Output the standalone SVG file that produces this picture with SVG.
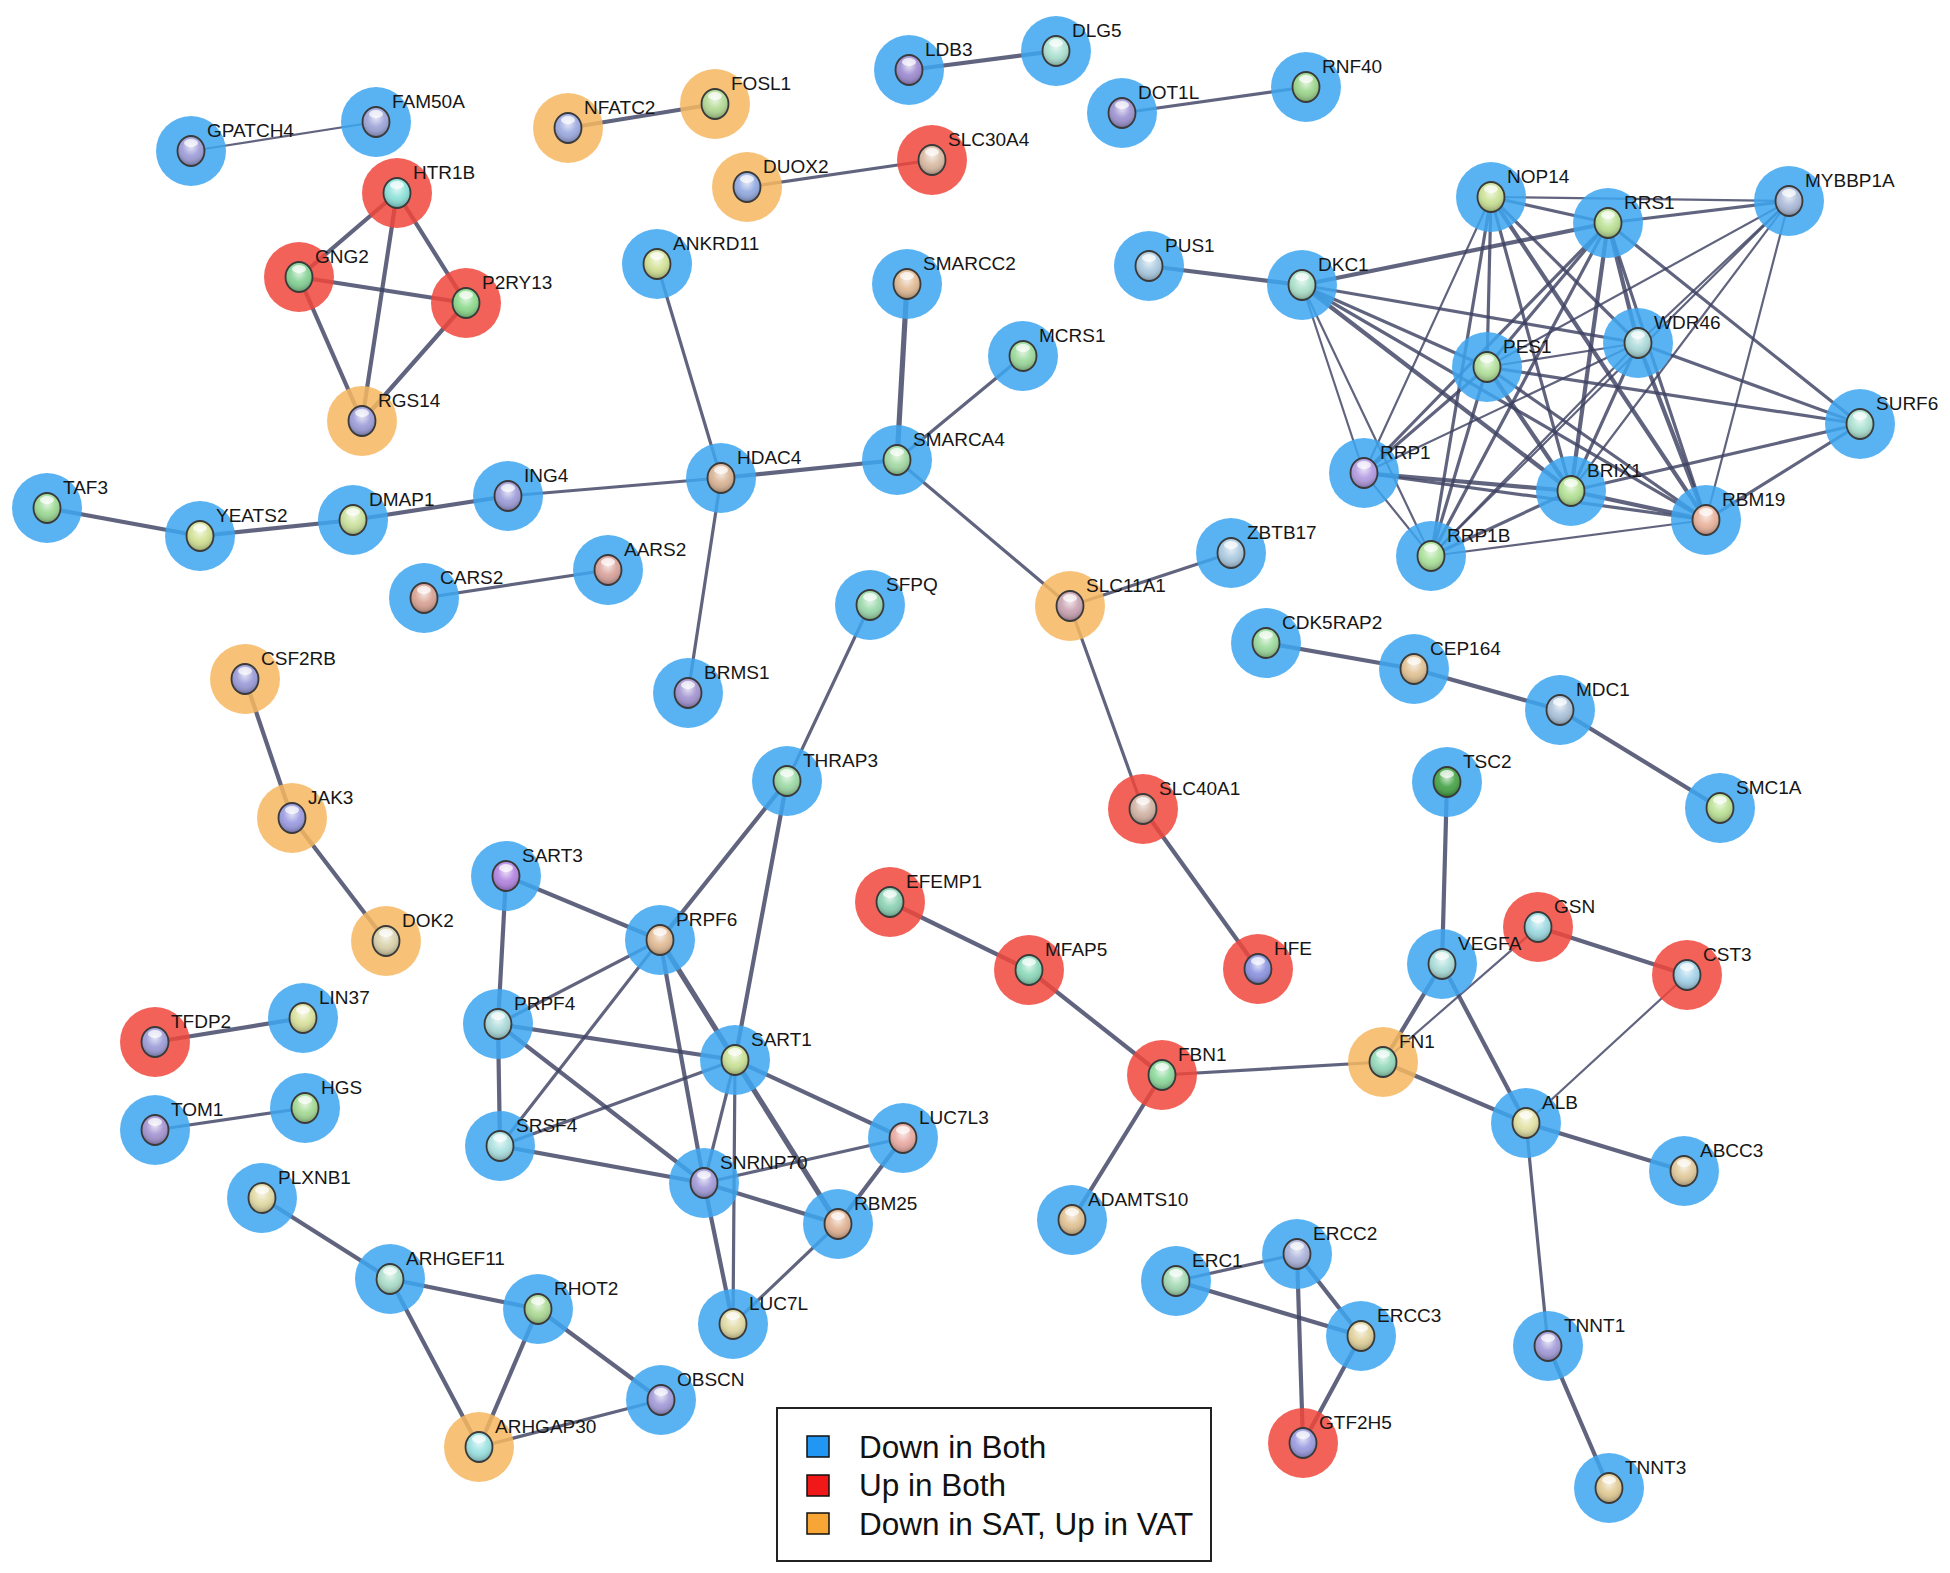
<svg xmlns="http://www.w3.org/2000/svg" xmlns:xlink="http://www.w3.org/1999/xlink" width="1950" height="1573" viewBox="0 0 1950 1573">
<style>
.node text{font-family:"Liberation Sans",Arial,sans-serif;font-size:19px;fill:#161616}
.hb{fill:#3ca6f1;fill-opacity:.85}
.hr{fill:#f0463b;fill-opacity:.85}
.ho{fill:#f6b760;fill-opacity:.85}
.ball{stroke:none}
#edges line{stroke:#3e4262;stroke-opacity:.82;stroke-linecap:round}
.t1{stroke-width:2.2}
.t2{stroke-width:3.2}
.t3{stroke-width:4.2}
.t4{stroke-width:5.2}
.legend text{font-family:"Liberation Sans",Arial,sans-serif;font-size:31.5px;fill:#111}
</style>
<defs>
<radialGradient id="shine" cx="0.5" cy="0.35" r="0.65">
<stop offset="0" stop-color="#fff" stop-opacity="0.75"/>
<stop offset="0.5" stop-color="#fff" stop-opacity="0.1"/>
<stop offset="1" stop-color="#000" stop-opacity="0.3"/>
</radialGradient>
<g id="gloss">
<ellipse rx="13.5" ry="15" fill="url(#shine)" stroke="#3a3a3a" stroke-width="1.8"/>
<ellipse cy="-8" rx="7" ry="4" fill="#fff" fill-opacity="0.7"/>
</g>
</defs>
<rect width="1950" height="1573" fill="#fff"/>
<g id="edges">
<line class="t1" x1="191" y1="151" x2="376" y2="122"/>
<line class="t3" x1="568" y1="128" x2="715" y2="104"/>
<line class="t3" x1="909" y1="70" x2="1056" y2="51"/>
<line class="t2" x1="1122" y1="113" x2="1306" y2="87"/>
<line class="t2" x1="747" y1="187" x2="932" y2="160"/>
<line class="t3" x1="397" y1="193" x2="299" y2="277"/>
<line class="t3" x1="397" y1="193" x2="466" y2="303"/>
<line class="t3" x1="397" y1="193" x2="362" y2="421"/>
<line class="t3" x1="299" y1="277" x2="466" y2="303"/>
<line class="t3" x1="299" y1="277" x2="362" y2="421"/>
<line class="t3" x1="466" y1="303" x2="362" y2="421"/>
<line class="t2" x1="657" y1="264" x2="721" y2="478"/>
<line class="t4" x1="907" y1="284" x2="897" y2="460"/>
<line class="t2" x1="1023" y1="356" x2="897" y2="460"/>
<line class="t3" x1="721" y1="478" x2="897" y2="460"/>
<line class="t2" x1="508" y1="496" x2="721" y2="478"/>
<line class="t3" x1="353" y1="520" x2="508" y2="496"/>
<line class="t3" x1="200" y1="536" x2="353" y2="520"/>
<line class="t3" x1="47" y1="508" x2="200" y2="536"/>
<line class="t2" x1="721" y1="478" x2="688" y2="693"/>
<line class="t2" x1="897" y1="460" x2="1070" y2="606"/>
<line class="t2" x1="1070" y1="606" x2="1231" y2="553"/>
<line class="t2" x1="1070" y1="606" x2="1143" y2="809"/>
<line class="t3" x1="1143" y1="809" x2="1258" y2="969"/>
<line class="t2" x1="424" y1="598" x2="608" y2="570"/>
<line class="t3" x1="1149" y1="266" x2="1302" y2="285"/>
<line class="t2" x1="870" y1="605" x2="787" y2="781"/>
<line class="t3" x1="787" y1="781" x2="660" y2="940"/>
<line class="t3" x1="787" y1="781" x2="735" y2="1060"/>
<line class="t3" x1="1266" y1="643" x2="1414" y2="669"/>
<line class="t3" x1="1414" y1="669" x2="1560" y2="710"/>
<line class="t3" x1="1560" y1="710" x2="1720" y2="808"/>
<line class="t3" x1="245" y1="679" x2="292" y2="818"/>
<line class="t3" x1="292" y1="818" x2="386" y2="941"/>
<line class="t3" x1="1447" y1="782" x2="1442" y2="964"/>
<line class="t3" x1="506" y1="876" x2="660" y2="940"/>
<line class="t3" x1="506" y1="876" x2="498" y2="1024"/>
<line class="t2" x1="660" y1="940" x2="498" y2="1024"/>
<line class="t2" x1="660" y1="940" x2="500" y2="1146"/>
<line class="t3" x1="660" y1="940" x2="704" y2="1183"/>
<line class="t4" x1="660" y1="940" x2="735" y2="1060"/>
<line class="t3" x1="498" y1="1024" x2="735" y2="1060"/>
<line class="t3" x1="498" y1="1024" x2="500" y2="1146"/>
<line class="t3" x1="498" y1="1024" x2="704" y2="1183"/>
<line class="t2" x1="500" y1="1146" x2="735" y2="1060"/>
<line class="t3" x1="500" y1="1146" x2="704" y2="1183"/>
<line class="t2" x1="735" y1="1060" x2="704" y2="1183"/>
<line class="t3" x1="735" y1="1060" x2="903" y2="1138"/>
<line class="t4" x1="735" y1="1060" x2="838" y2="1224"/>
<line class="t2" x1="735" y1="1060" x2="733" y2="1324"/>
<line class="t2" x1="704" y1="1183" x2="903" y2="1138"/>
<line class="t3" x1="704" y1="1183" x2="838" y2="1224"/>
<line class="t3" x1="704" y1="1183" x2="733" y2="1324"/>
<line class="t3" x1="903" y1="1138" x2="838" y2="1224"/>
<line class="t2" x1="838" y1="1224" x2="733" y2="1324"/>
<line class="t3" x1="890" y1="902" x2="1029" y2="970"/>
<line class="t3" x1="1029" y1="970" x2="1162" y2="1075"/>
<line class="t3" x1="1162" y1="1075" x2="1072" y2="1220"/>
<line class="t2" x1="1162" y1="1075" x2="1383" y2="1062"/>
<line class="t3" x1="1383" y1="1062" x2="1442" y2="964"/>
<line class="t1" x1="1383" y1="1062" x2="1538" y2="927"/>
<line class="t3" x1="1383" y1="1062" x2="1526" y2="1123"/>
<line class="t3" x1="1442" y1="964" x2="1526" y2="1123"/>
<line class="t3" x1="1538" y1="927" x2="1687" y2="975"/>
<line class="t1" x1="1687" y1="975" x2="1526" y2="1123"/>
<line class="t3" x1="1526" y1="1123" x2="1684" y2="1171"/>
<line class="t2" x1="1526" y1="1123" x2="1548" y2="1346"/>
<line class="t3" x1="1548" y1="1346" x2="1609" y2="1488"/>
<line class="t3" x1="155" y1="1042" x2="303" y2="1018"/>
<line class="t2" x1="155" y1="1130" x2="305" y2="1108"/>
<line class="t3" x1="262" y1="1198" x2="390" y2="1279"/>
<line class="t3" x1="390" y1="1279" x2="538" y2="1309"/>
<line class="t3" x1="390" y1="1279" x2="479" y2="1447"/>
<line class="t3" x1="538" y1="1309" x2="479" y2="1447"/>
<line class="t3" x1="538" y1="1309" x2="661" y2="1400"/>
<line class="t2" x1="661" y1="1400" x2="479" y2="1447"/>
<line class="t2" x1="1176" y1="1281" x2="1297" y2="1254"/>
<line class="t3" x1="1176" y1="1281" x2="1361" y2="1336"/>
<line class="t3" x1="1297" y1="1254" x2="1361" y2="1336"/>
<line class="t3" x1="1297" y1="1254" x2="1303" y2="1443"/>
<line class="t3" x1="1361" y1="1336" x2="1303" y2="1443"/>
<line class="t3" x1="1302" y1="285" x2="1608" y2="223"/>
<line class="t2" x1="1302" y1="285" x2="1487" y2="367"/>
<line class="t2" x1="1302" y1="285" x2="1638" y2="343"/>
<line class="t3" x1="1302" y1="285" x2="1571" y2="491"/>
<line class="t2" x1="1302" y1="285" x2="1706" y2="520"/>
<line class="t1" x1="1302" y1="285" x2="1364" y2="473"/>
<line class="t1" x1="1302" y1="285" x2="1431" y2="556"/>
<line class="t2" x1="1491" y1="197" x2="1608" y2="223"/>
<line class="t1" x1="1491" y1="197" x2="1789" y2="201"/>
<line class="t2" x1="1491" y1="197" x2="1487" y2="367"/>
<line class="t2" x1="1491" y1="197" x2="1638" y2="343"/>
<line class="t2" x1="1491" y1="197" x2="1571" y2="491"/>
<line class="t3" x1="1491" y1="197" x2="1706" y2="520"/>
<line class="t1" x1="1491" y1="197" x2="1364" y2="473"/>
<line class="t2" x1="1491" y1="197" x2="1431" y2="556"/>
<line class="t2" x1="1608" y1="223" x2="1789" y2="201"/>
<line class="t2" x1="1608" y1="223" x2="1487" y2="367"/>
<line class="t3" x1="1608" y1="223" x2="1638" y2="343"/>
<line class="t3" x1="1608" y1="223" x2="1571" y2="491"/>
<line class="t2" x1="1608" y1="223" x2="1706" y2="520"/>
<line class="t2" x1="1608" y1="223" x2="1364" y2="473"/>
<line class="t2" x1="1608" y1="223" x2="1431" y2="556"/>
<line class="t2" x1="1608" y1="223" x2="1860" y2="424"/>
<line class="t1" x1="1789" y1="201" x2="1487" y2="367"/>
<line class="t1" x1="1789" y1="201" x2="1638" y2="343"/>
<line class="t1" x1="1789" y1="201" x2="1571" y2="491"/>
<line class="t1" x1="1789" y1="201" x2="1706" y2="520"/>
<line class="t1" x1="1789" y1="201" x2="1431" y2="556"/>
<line class="t1" x1="1638" y1="343" x2="1487" y2="367"/>
<line class="t2" x1="1638" y1="343" x2="1860" y2="424"/>
<line class="t3" x1="1638" y1="343" x2="1706" y2="520"/>
<line class="t2" x1="1638" y1="343" x2="1571" y2="491"/>
<line class="t1" x1="1638" y1="343" x2="1364" y2="473"/>
<line class="t1" x1="1638" y1="343" x2="1431" y2="556"/>
<line class="t2" x1="1487" y1="367" x2="1860" y2="424"/>
<line class="t3" x1="1487" y1="367" x2="1571" y2="491"/>
<line class="t2" x1="1487" y1="367" x2="1706" y2="520"/>
<line class="t2" x1="1487" y1="367" x2="1364" y2="473"/>
<line class="t2" x1="1487" y1="367" x2="1431" y2="556"/>
<line class="t2" x1="1860" y1="424" x2="1571" y2="491"/>
<line class="t2" x1="1860" y1="424" x2="1706" y2="520"/>
<line class="t3" x1="1364" y1="473" x2="1571" y2="491"/>
<line class="t2" x1="1364" y1="473" x2="1706" y2="520"/>
<line class="t1" x1="1364" y1="473" x2="1431" y2="556"/>
<line class="t3" x1="1571" y1="491" x2="1706" y2="520"/>
<line class="t2" x1="1571" y1="491" x2="1431" y2="556"/>
<line class="t1" x1="1706" y1="520" x2="1431" y2="556"/>
</g>
<g id="nodes">
<g id="node-GPATCH4" class="node" transform="translate(191,151)"><circle class="hb" r="35"/><ellipse class="ball" rx="13.5" ry="15" fill="#9a9ad8"/><use href="#gloss"/><text x="16" y="-14">GPATCH4</text></g>
<g id="node-FAM50A" class="node" transform="translate(376,122)"><circle class="hb" r="35"/><ellipse class="ball" rx="13.5" ry="15" fill="#9aa2d8"/><use href="#gloss"/><text x="16" y="-14">FAM50A</text></g>
<g id="node-NFATC2" class="node" transform="translate(568,128)"><circle class="ho" r="35"/><ellipse class="ball" rx="13.5" ry="15" fill="#9aa8e0"/><use href="#gloss"/><text x="16" y="-14">NFATC2</text></g>
<g id="node-FOSL1" class="node" transform="translate(715,104)"><circle class="ho" r="35"/><ellipse class="ball" rx="13.5" ry="15" fill="#b0d890"/><use href="#gloss"/><text x="16" y="-14">FOSL1</text></g>
<g id="node-LDB3" class="node" transform="translate(909,70)"><circle class="hb" r="35"/><ellipse class="ball" rx="13.5" ry="15" fill="#9a88d0"/><use href="#gloss"/><text x="16" y="-14">LDB3</text></g>
<g id="node-DLG5" class="node" transform="translate(1056,51)"><circle class="hb" r="35"/><ellipse class="ball" rx="13.5" ry="15" fill="#a8e0d0"/><use href="#gloss"/><text x="16" y="-14">DLG5</text></g>
<g id="node-DOT1L" class="node" transform="translate(1122,113)"><circle class="hb" r="35"/><ellipse class="ball" rx="13.5" ry="15" fill="#9a90d0"/><use href="#gloss"/><text x="16" y="-14">DOT1L</text></g>
<g id="node-RNF40" class="node" transform="translate(1306,87)"><circle class="hb" r="35"/><ellipse class="ball" rx="13.5" ry="15" fill="#98d488"/><use href="#gloss"/><text x="16" y="-14">RNF40</text></g>
<g id="node-DUOX2" class="node" transform="translate(747,187)"><circle class="ho" r="35"/><ellipse class="ball" rx="13.5" ry="15" fill="#90a8e0"/><use href="#gloss"/><text x="16" y="-14">DUOX2</text></g>
<g id="node-SLC30A4" class="node" transform="translate(932,160)"><circle class="hr" r="35"/><ellipse class="ball" rx="13.5" ry="15" fill="#d8b8a0"/><use href="#gloss"/><text x="16" y="-14">SLC30A4</text></g>
<g id="node-HTR1B" class="node" transform="translate(397,193)"><circle class="hr" r="35"/><ellipse class="ball" rx="13.5" ry="15" fill="#88e0d8"/><use href="#gloss"/><text x="16" y="-14">HTR1B</text></g>
<g id="node-GNG2" class="node" transform="translate(299,277)"><circle class="hr" r="35"/><ellipse class="ball" rx="13.5" ry="15" fill="#80d090"/><use href="#gloss"/><text x="16" y="-14">GNG2</text></g>
<g id="node-P2RY13" class="node" transform="translate(466,303)"><circle class="hr" r="35"/><ellipse class="ball" rx="13.5" ry="15" fill="#88d888"/><use href="#gloss"/><text x="16" y="-14">P2RY13</text></g>
<g id="node-RGS14" class="node" transform="translate(362,421)"><circle class="ho" r="35"/><ellipse class="ball" rx="13.5" ry="15" fill="#9a9ad8"/><use href="#gloss"/><text x="16" y="-14">RGS14</text></g>
<g id="node-ANKRD11" class="node" transform="translate(657,264)"><circle class="hb" r="35"/><ellipse class="ball" rx="13.5" ry="15" fill="#d0e090"/><use href="#gloss"/><text x="16" y="-14">ANKRD11</text></g>
<g id="node-SMARCC2" class="node" transform="translate(907,284)"><circle class="hb" r="35"/><ellipse class="ball" rx="13.5" ry="15" fill="#e0b890"/><use href="#gloss"/><text x="16" y="-14">SMARCC2</text></g>
<g id="node-MCRS1" class="node" transform="translate(1023,356)"><circle class="hb" r="35"/><ellipse class="ball" rx="13.5" ry="15" fill="#98d898"/><use href="#gloss"/><text x="16" y="-14">MCRS1</text></g>
<g id="node-PUS1" class="node" transform="translate(1149,266)"><circle class="hb" r="35"/><ellipse class="ball" rx="13.5" ry="15" fill="#a8c8e0"/><use href="#gloss"/><text x="16" y="-14">PUS1</text></g>
<g id="node-DKC1" class="node" transform="translate(1302,285)"><circle class="hb" r="35"/><ellipse class="ball" rx="13.5" ry="15" fill="#a8e0c8"/><use href="#gloss"/><text x="16" y="-14">DKC1</text></g>
<g id="node-NOP14" class="node" transform="translate(1491,197)"><circle class="hb" r="35"/><ellipse class="ball" rx="13.5" ry="15" fill="#c8e090"/><use href="#gloss"/><text x="16" y="-14">NOP14</text></g>
<g id="node-RRS1" class="node" transform="translate(1608,223)"><circle class="hb" r="35"/><ellipse class="ball" rx="13.5" ry="15" fill="#b8e090"/><use href="#gloss"/><text x="16" y="-14">RRS1</text></g>
<g id="node-MYBBP1A" class="node" transform="translate(1789,201)"><circle class="hb" r="35"/><ellipse class="ball" rx="13.5" ry="15" fill="#a8b8d8"/><use href="#gloss"/><text x="16" y="-14">MYBBP1A</text></g>
<g id="node-WDR46" class="node" transform="translate(1638,343)"><circle class="hb" r="35"/><ellipse class="ball" rx="13.5" ry="15" fill="#a8d8d8"/><use href="#gloss"/><text x="16" y="-14">WDR46</text></g>
<g id="node-PES1" class="node" transform="translate(1487,367)"><circle class="hb" r="35"/><ellipse class="ball" rx="13.5" ry="15" fill="#b0e098"/><use href="#gloss"/><text x="16" y="-14">PES1</text></g>
<g id="node-SURF6" class="node" transform="translate(1860,424)"><circle class="hb" r="35"/><ellipse class="ball" rx="13.5" ry="15" fill="#a8e0d0"/><use href="#gloss"/><text x="16" y="-14">SURF6</text></g>
<g id="node-RRP1" class="node" transform="translate(1364,473)"><circle class="hb" r="35"/><ellipse class="ball" rx="13.5" ry="15" fill="#b098e0"/><use href="#gloss"/><text x="16" y="-14">RRP1</text></g>
<g id="node-BRIX1" class="node" transform="translate(1571,491)"><circle class="hb" r="35"/><ellipse class="ball" rx="13.5" ry="15" fill="#b0e090"/><use href="#gloss"/><text x="16" y="-14">BRIX1</text></g>
<g id="node-RBM19" class="node" transform="translate(1706,520)"><circle class="hb" r="35"/><ellipse class="ball" rx="13.5" ry="15" fill="#e8b098"/><use href="#gloss"/><text x="16" y="-14">RBM19</text></g>
<g id="node-RRP1B" class="node" transform="translate(1431,556)"><circle class="hb" r="35"/><ellipse class="ball" rx="13.5" ry="15" fill="#a8e098"/><use href="#gloss"/><text x="16" y="-14">RRP1B</text></g>
<g id="node-TAF3" class="node" transform="translate(47,508)"><circle class="hb" r="35"/><ellipse class="ball" rx="13.5" ry="15" fill="#98d890"/><use href="#gloss"/><text x="16" y="-14">TAF3</text></g>
<g id="node-YEATS2" class="node" transform="translate(200,536)"><circle class="hb" r="35"/><ellipse class="ball" rx="13.5" ry="15" fill="#d0e090"/><use href="#gloss"/><text x="16" y="-14">YEATS2</text></g>
<g id="node-DMAP1" class="node" transform="translate(353,520)"><circle class="hb" r="35"/><ellipse class="ball" rx="13.5" ry="15" fill="#c8e098"/><use href="#gloss"/><text x="16" y="-14">DMAP1</text></g>
<g id="node-ING4" class="node" transform="translate(508,496)"><circle class="hb" r="35"/><ellipse class="ball" rx="13.5" ry="15" fill="#9a9ad8"/><use href="#gloss"/><text x="16" y="-14">ING4</text></g>
<g id="node-HDAC4" class="node" transform="translate(721,478)"><circle class="hb" r="35"/><ellipse class="ball" rx="13.5" ry="15" fill="#d8b090"/><use href="#gloss"/><text x="16" y="-14">HDAC4</text></g>
<g id="node-SMARCA4" class="node" transform="translate(897,460)"><circle class="hb" r="35"/><ellipse class="ball" rx="13.5" ry="15" fill="#a0d8a0"/><use href="#gloss"/><text x="16" y="-14">SMARCA4</text></g>
<g id="node-ZBTB17" class="node" transform="translate(1231,553)"><circle class="hb" r="35"/><ellipse class="ball" rx="13.5" ry="15" fill="#a8c8e0"/><use href="#gloss"/><text x="16" y="-14">ZBTB17</text></g>
<g id="node-SLC11A1" class="node" transform="translate(1070,606)"><circle class="ho" r="35"/><ellipse class="ball" rx="13.5" ry="15" fill="#c8a0b0"/><use href="#gloss"/><text x="16" y="-14">SLC11A1</text></g>
<g id="node-CARS2" class="node" transform="translate(424,598)"><circle class="hb" r="35"/><ellipse class="ball" rx="13.5" ry="15" fill="#d8a090"/><use href="#gloss"/><text x="16" y="-14">CARS2</text></g>
<g id="node-AARS2" class="node" transform="translate(608,570)"><circle class="hb" r="35"/><ellipse class="ball" rx="13.5" ry="15" fill="#d8a098"/><use href="#gloss"/><text x="16" y="-14">AARS2</text></g>
<g id="node-SFPQ" class="node" transform="translate(870,605)"><circle class="hb" r="35"/><ellipse class="ball" rx="13.5" ry="15" fill="#98d8a8"/><use href="#gloss"/><text x="16" y="-14">SFPQ</text></g>
<g id="node-BRMS1" class="node" transform="translate(688,693)"><circle class="hb" r="35"/><ellipse class="ball" rx="13.5" ry="15" fill="#a090d0"/><use href="#gloss"/><text x="16" y="-14">BRMS1</text></g>
<g id="node-CDK5RAP2" class="node" transform="translate(1266,643)"><circle class="hb" r="35"/><ellipse class="ball" rx="13.5" ry="15" fill="#98d898"/><use href="#gloss"/><text x="16" y="-14">CDK5RAP2</text></g>
<g id="node-CEP164" class="node" transform="translate(1414,669)"><circle class="hb" r="35"/><ellipse class="ball" rx="13.5" ry="15" fill="#e0c090"/><use href="#gloss"/><text x="16" y="-14">CEP164</text></g>
<g id="node-MDC1" class="node" transform="translate(1560,710)"><circle class="hb" r="35"/><ellipse class="ball" rx="13.5" ry="15" fill="#a8c0d8"/><use href="#gloss"/><text x="16" y="-14">MDC1</text></g>
<g id="node-SMC1A" class="node" transform="translate(1720,808)"><circle class="hb" r="35"/><ellipse class="ball" rx="13.5" ry="15" fill="#b8e090"/><use href="#gloss"/><text x="16" y="-14">SMC1A</text></g>
<g id="node-CSF2RB" class="node" transform="translate(245,679)"><circle class="ho" r="35"/><ellipse class="ball" rx="13.5" ry="15" fill="#9898d8"/><use href="#gloss"/><text x="16" y="-14">CSF2RB</text></g>
<g id="node-JAK3" class="node" transform="translate(292,818)"><circle class="ho" r="35"/><ellipse class="ball" rx="13.5" ry="15" fill="#9898e0"/><use href="#gloss"/><text x="16" y="-14">JAK3</text></g>
<g id="node-DOK2" class="node" transform="translate(386,941)"><circle class="ho" r="35"/><ellipse class="ball" rx="13.5" ry="15" fill="#d8d0a8"/><use href="#gloss"/><text x="16" y="-14">DOK2</text></g>
<g id="node-THRAP3" class="node" transform="translate(787,781)"><circle class="hb" r="35"/><ellipse class="ball" rx="13.5" ry="15" fill="#98d8a0"/><use href="#gloss"/><text x="16" y="-14">THRAP3</text></g>
<g id="node-SLC40A1" class="node" transform="translate(1143,809)"><circle class="hr" r="35"/><ellipse class="ball" rx="13.5" ry="15" fill="#d0b0a0"/><use href="#gloss"/><text x="16" y="-14">SLC40A1</text></g>
<g id="node-TSC2" class="node" transform="translate(1447,782)"><circle class="hb" r="35"/><ellipse class="ball" rx="13.5" ry="15" fill="#40a040"/><use href="#gloss"/><text x="16" y="-14">TSC2</text></g>
<g id="node-SART3" class="node" transform="translate(506,876)"><circle class="hb" r="35"/><ellipse class="ball" rx="13.5" ry="15" fill="#b080e0"/><use href="#gloss"/><text x="16" y="-14">SART3</text></g>
<g id="node-PRPF6" class="node" transform="translate(660,940)"><circle class="hb" r="35"/><ellipse class="ball" rx="13.5" ry="15" fill="#e0b890"/><use href="#gloss"/><text x="16" y="-14">PRPF6</text></g>
<g id="node-EFEMP1" class="node" transform="translate(890,902)"><circle class="hr" r="35"/><ellipse class="ball" rx="13.5" ry="15" fill="#88d0b0"/><use href="#gloss"/><text x="16" y="-14">EFEMP1</text></g>
<g id="node-MFAP5" class="node" transform="translate(1029,970)"><circle class="hr" r="35"/><ellipse class="ball" rx="13.5" ry="15" fill="#88d8b8"/><use href="#gloss"/><text x="16" y="-14">MFAP5</text></g>
<g id="node-HFE" class="node" transform="translate(1258,969)"><circle class="hr" r="35"/><ellipse class="ball" rx="13.5" ry="15" fill="#8890e0"/><use href="#gloss"/><text x="16" y="-14">HFE</text></g>
<g id="node-GSN" class="node" transform="translate(1538,927)"><circle class="hr" r="35"/><ellipse class="ball" rx="13.5" ry="15" fill="#98d8e0"/><use href="#gloss"/><text x="16" y="-14">GSN</text></g>
<g id="node-VEGFA" class="node" transform="translate(1442,964)"><circle class="hb" r="35"/><ellipse class="ball" rx="13.5" ry="15" fill="#a8dcd8"/><use href="#gloss"/><text x="16" y="-14">VEGFA</text></g>
<g id="node-CST3" class="node" transform="translate(1687,975)"><circle class="hr" r="35"/><ellipse class="ball" rx="13.5" ry="15" fill="#a0d0e8"/><use href="#gloss"/><text x="16" y="-14">CST3</text></g>
<g id="node-TFDP2" class="node" transform="translate(155,1042)"><circle class="hr" r="35"/><ellipse class="ball" rx="13.5" ry="15" fill="#9a9ad8"/><use href="#gloss"/><text x="16" y="-14">TFDP2</text></g>
<g id="node-LIN37" class="node" transform="translate(303,1018)"><circle class="hb" r="35"/><ellipse class="ball" rx="13.5" ry="15" fill="#d8e098"/><use href="#gloss"/><text x="16" y="-14">LIN37</text></g>
<g id="node-PRPF4" class="node" transform="translate(498,1024)"><circle class="hb" r="35"/><ellipse class="ball" rx="13.5" ry="15" fill="#a8d8d8"/><use href="#gloss"/><text x="16" y="-14">PRPF4</text></g>
<g id="node-SART1" class="node" transform="translate(735,1060)"><circle class="hb" r="35"/><ellipse class="ball" rx="13.5" ry="15" fill="#c8e090"/><use href="#gloss"/><text x="16" y="-14">SART1</text></g>
<g id="node-FBN1" class="node" transform="translate(1162,1075)"><circle class="hr" r="35"/><ellipse class="ball" rx="13.5" ry="15" fill="#88d898"/><use href="#gloss"/><text x="16" y="-14">FBN1</text></g>
<g id="node-FN1" class="node" transform="translate(1383,1062)"><circle class="ho" r="35"/><ellipse class="ball" rx="13.5" ry="15" fill="#90d8b8"/><use href="#gloss"/><text x="16" y="-14">FN1</text></g>
<g id="node-ALB" class="node" transform="translate(1526,1123)"><circle class="hb" r="35"/><ellipse class="ball" rx="13.5" ry="15" fill="#e0e0a0"/><use href="#gloss"/><text x="16" y="-14">ALB</text></g>
<g id="node-TOM1" class="node" transform="translate(155,1130)"><circle class="hb" r="35"/><ellipse class="ball" rx="13.5" ry="15" fill="#a090d0"/><use href="#gloss"/><text x="16" y="-14">TOM1</text></g>
<g id="node-HGS" class="node" transform="translate(305,1108)"><circle class="hb" r="35"/><ellipse class="ball" rx="13.5" ry="15" fill="#a0d890"/><use href="#gloss"/><text x="16" y="-14">HGS</text></g>
<g id="node-SRSF4" class="node" transform="translate(500,1146)"><circle class="hb" r="35"/><ellipse class="ball" rx="13.5" ry="15" fill="#a8e0e0"/><use href="#gloss"/><text x="16" y="-14">SRSF4</text></g>
<g id="node-LUC7L3" class="node" transform="translate(903,1138)"><circle class="hb" r="35"/><ellipse class="ball" rx="13.5" ry="15" fill="#e8a8a0"/><use href="#gloss"/><text x="16" y="-14">LUC7L3</text></g>
<g id="node-SNRNP70" class="node" transform="translate(704,1183)"><circle class="hb" r="35"/><ellipse class="ball" rx="13.5" ry="15" fill="#a098d8"/><use href="#gloss"/><text x="16" y="-14">SNRNP70</text></g>
<g id="node-RBM25" class="node" transform="translate(838,1224)"><circle class="hb" r="35"/><ellipse class="ball" rx="13.5" ry="15" fill="#e0b090"/><use href="#gloss"/><text x="16" y="-14">RBM25</text></g>
<g id="node-PLXNB1" class="node" transform="translate(262,1198)"><circle class="hb" r="35"/><ellipse class="ball" rx="13.5" ry="15" fill="#e0d8a0"/><use href="#gloss"/><text x="16" y="-14">PLXNB1</text></g>
<g id="node-ABCC3" class="node" transform="translate(1684,1171)"><circle class="hb" r="35"/><ellipse class="ball" rx="13.5" ry="15" fill="#e0c898"/><use href="#gloss"/><text x="16" y="-14">ABCC3</text></g>
<g id="node-ADAMTS10" class="node" transform="translate(1072,1220)"><circle class="hb" r="35"/><ellipse class="ball" rx="13.5" ry="15" fill="#e0c090"/><use href="#gloss"/><text x="16" y="-14">ADAMTS10</text></g>
<g id="node-ARHGEF11" class="node" transform="translate(390,1279)"><circle class="hb" r="35"/><ellipse class="ball" rx="13.5" ry="15" fill="#a8dcc8"/><use href="#gloss"/><text x="16" y="-14">ARHGEF11</text></g>
<g id="node-RHOT2" class="node" transform="translate(538,1309)"><circle class="hb" r="35"/><ellipse class="ball" rx="13.5" ry="15" fill="#a8d890"/><use href="#gloss"/><text x="16" y="-14">RHOT2</text></g>
<g id="node-ERCC2" class="node" transform="translate(1297,1254)"><circle class="hb" r="35"/><ellipse class="ball" rx="13.5" ry="15" fill="#a8b0d8"/><use href="#gloss"/><text x="16" y="-14">ERCC2</text></g>
<g id="node-ERC1" class="node" transform="translate(1176,1281)"><circle class="hb" r="35"/><ellipse class="ball" rx="13.5" ry="15" fill="#a0d8b0"/><use href="#gloss"/><text x="16" y="-14">ERC1</text></g>
<g id="node-ERCC3" class="node" transform="translate(1361,1336)"><circle class="hb" r="35"/><ellipse class="ball" rx="13.5" ry="15" fill="#e0d098"/><use href="#gloss"/><text x="16" y="-14">ERCC3</text></g>
<g id="node-LUC7L" class="node" transform="translate(733,1324)"><circle class="hb" r="35"/><ellipse class="ball" rx="13.5" ry="15" fill="#e0d8a0"/><use href="#gloss"/><text x="16" y="-14">LUC7L</text></g>
<g id="node-TNNT1" class="node" transform="translate(1548,1346)"><circle class="hb" r="35"/><ellipse class="ball" rx="13.5" ry="15" fill="#a098d8"/><use href="#gloss"/><text x="16" y="-14">TNNT1</text></g>
<g id="node-OBSCN" class="node" transform="translate(661,1400)"><circle class="hb" r="35"/><ellipse class="ball" rx="13.5" ry="15" fill="#a098d8"/><use href="#gloss"/><text x="16" y="-14">OBSCN</text></g>
<g id="node-ARHGAP30" class="node" transform="translate(479,1447)"><circle class="ho" r="35"/><ellipse class="ball" rx="13.5" ry="15" fill="#98e0e0"/><use href="#gloss"/><text x="16" y="-14">ARHGAP30</text></g>
<g id="node-GTF2H5" class="node" transform="translate(1303,1443)"><circle class="hr" r="35"/><ellipse class="ball" rx="13.5" ry="15" fill="#9898e0"/><use href="#gloss"/><text x="16" y="-14">GTF2H5</text></g>
<g id="node-TNNT3" class="node" transform="translate(1609,1488)"><circle class="hb" r="35"/><ellipse class="ball" rx="13.5" ry="15" fill="#e0c890"/><use href="#gloss"/><text x="16" y="-14">TNNT3</text></g>
</g>
<g id="legend" class="legend">
<rect x="777" y="1408" width="434" height="153" fill="#fff" stroke="#222" stroke-width="2"/>
<rect x="807" y="1436" width="22" height="21" fill="#2196f3" stroke="#111" stroke-width="1.5"/>
<rect x="807" y="1475" width="22" height="21" fill="#f01818" stroke="#111" stroke-width="1.5"/>
<rect x="807" y="1513" width="22" height="21" fill="#f7a534" stroke="#111" stroke-width="1.5"/>
<text x="859" y="1458">Down in Both</text>
<text x="859" y="1496">Up in Both</text>
<text x="859" y="1535">Down in SAT, Up in VAT</text>
</g>
</svg>
